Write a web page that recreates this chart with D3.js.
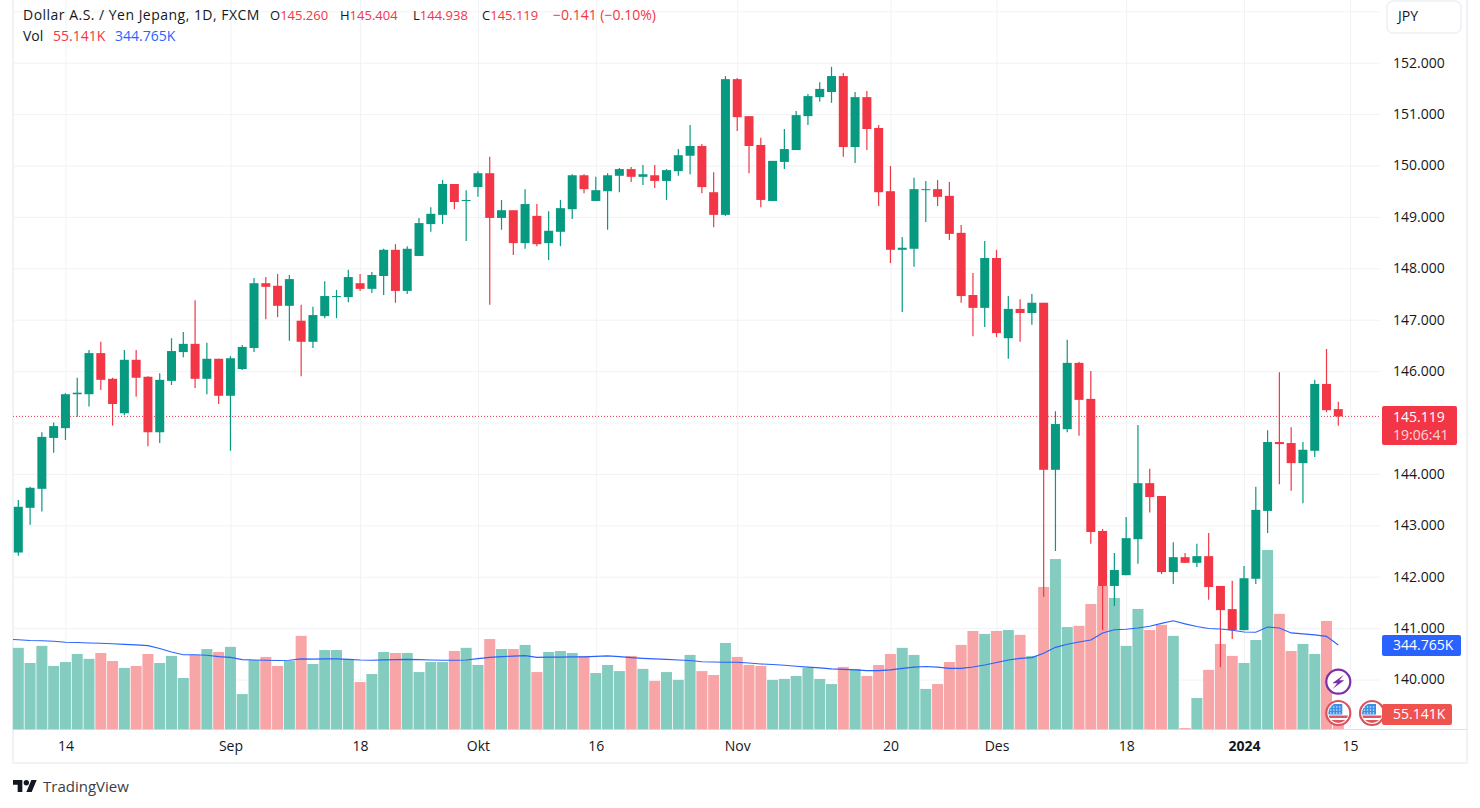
<!DOCTYPE html>
<html>
<head>
<meta charset="utf-8">
<script src="https://cdn.jsdelivr.net/npm/d3@7"></script>
<style>
  html, body { margin: 0; padding: 0; background: #fff; }
  svg { display: block; }
  text { font-family: "Open Sans", sans-serif; }
</style>
</head>
<body>
<div id="vis"></div>
<script>
// ---- Data ----
const opens = [
  142.47,143.34,143.71,144.70,144.89,145.55,145.55,146.35,145.85,145.18,
  146.22,145.89,144.81,145.81,146.37,146.53,145.85,146.24,145.52,146.04,
  146.45,147.71,147.66,147.27,146.98,146.57,147.07,147.44,147.44,147.71,
  147.60,147.85,148.36,147.56,148.24,148.86,149.04,149.64,149.31,149.58,
  149.85,148.98,149.13,148.49,149.02,148.49,148.71,149.15,149.81,149.31,
  149.50,149.80,149.93,149.78,149.81,149.70,149.89,150.19,150.38,149.48,
  149.04,151.68,150.96,150.40,149.31,150.07,150.30,150.96,151.33,151.43,
  151.74,150.36,151.33,150.73,149.50,148.36,148.38,149.52,149.54,149.41,
  148.69,147.48,147.23,148.20,146.64,147.21,147.13,147.33,144.08,144.87,
  146.16,145.46,142.89,141.82,142.03,142.73,143.82,143.57,142.09,142.38,
  142.27,142.40,141.82,141.37,140.96,141.96,143.28,144.62,144.60,144.21,
  144.45,145.75,145.260
];
const highs = [
  143.49,143.75,144.81,145.00,145.57,145.87,146.41,146.57,145.87,146.41,
  146.41,145.90,145.96,146.64,146.76,147.38,146.55,146.24,146.29,146.51,
  147.81,147.83,147.89,147.87,147.29,147.25,147.75,147.58,147.97,147.89,
  147.93,148.38,148.47,148.43,148.98,149.19,149.72,149.64,149.52,149.89,
  150.17,149.33,149.13,149.54,149.25,149.11,149.33,149.83,149.83,149.78,
  149.85,149.95,149.97,150.01,150.01,149.93,150.32,150.79,150.42,149.87,
  151.74,151.70,150.96,150.54,150.09,150.71,151.06,151.39,151.62,151.92,
  151.80,151.43,151.45,150.79,149.99,148.61,149.76,149.70,149.72,149.68,
  148.84,147.91,148.53,148.36,147.46,147.40,147.50,147.33,145.22,146.61,
  146.18,146.00,142.93,142.46,143.16,144.95,144.10,143.57,142.67,142.46,
  142.64,142.85,141.82,141.92,142.21,143.75,144.85,145.98,144.91,144.62,
  145.83,146.43,145.404
];
const lows = [
  142.41,143.01,143.27,144.41,144.66,145.11,145.31,145.63,144.94,145.14,
  145.50,144.54,144.60,145.73,146.27,145.67,145.55,145.36,144.45,146.02,
  146.37,147.01,147.05,146.59,145.90,146.45,147.03,147.03,147.34,147.56,
  147.52,147.48,147.33,147.50,148.24,148.71,148.86,149.15,148.53,149.39,
  147.29,148.75,148.26,148.38,148.43,148.16,148.43,148.96,149.46,149.31,
  148.75,149.48,149.68,149.62,149.56,149.33,149.80,149.83,149.46,148.80,
  149.02,150.67,149.85,149.19,149.31,149.93,150.30,150.79,151.24,151.22,
  150.17,150.05,150.30,149.21,148.10,147.15,148.03,148.90,149.21,148.55,
  147.33,146.68,146.86,146.66,146.24,146.57,146.90,141.61,142.50,144.81,
  144.74,142.64,140.96,141.43,142.03,142.25,143.25,142.05,141.86,142.27,
  142.19,141.55,140.24,140.79,140.96,141.86,142.85,143.80,143.67,143.43,
  144.33,145.20,144.938
];
const closes = [
  143.36,143.73,144.72,144.93,145.55,145.58,146.35,145.83,145.36,146.22,
  145.87,144.81,145.83,146.39,146.53,145.85,146.24,145.52,146.25,146.47,
  147.71,147.64,147.27,147.79,146.57,147.09,147.46,147.46,147.83,147.60,
  147.87,148.36,147.56,148.38,148.88,149.06,149.64,149.29,149.33,149.85,
  148.98,149.13,148.49,149.25,148.47,148.73,149.17,149.81,149.54,149.52,
  149.81,149.93,149.78,149.83,149.70,149.91,150.20,150.38,149.58,149.04,
  151.68,150.94,150.38,149.33,150.09,150.32,150.98,151.35,151.49,151.74,
  150.36,151.33,150.71,149.48,148.36,148.40,149.54,149.54,149.39,148.67,
  147.46,147.23,148.20,146.74,147.21,147.13,147.33,144.08,144.97,146.16,
  145.44,142.87,141.82,142.13,142.75,143.82,143.55,142.09,142.38,142.27,
  142.40,141.80,141.35,140.96,141.97,143.30,144.62,144.58,144.21,144.47,
  145.75,145.24,145.119
];
// volume, thousands
const volumes = [
  333,271,341,259,275,308,288,312,279,251,
  259,308,271,300,210,304,328,316,337,144,
  283,296,259,279,382,267,324,324,288,193,
  226,316,312,312,234,275,275,320,333,263,
  369,328,328,345,234,316,320,312,300,230,
  263,238,300,247,198,234,202,304,238,222,
  353,296,263,259,202,206,218,251,206,185,
  255,247,218,263,308,333,304,165,185,275,
  345,402,390,402,406,386,300,582,696,418,
  423,512,586,537,341,492,406,427,382,5,
  128,243,349,300,271,365,733,472,320,349,
  308,443,55.141
];
// first value belongs to the session just left of the visible range
const volumeMA = [
  369,
  366,363,362,360,356,355,353,352,350,347,
  345,342,330,316,305,305,303,297,294,285,
  283,282,281,282,288,287,288,288,286,283,
  282,284,285,286,285,283,282,282,283,289,
  294,297,299,301,294,295,295,296,296,298,
  300,297,293,290,288,286,283,281,276,275,
  274,274,271,267,265,262,258,254,251,247,
  245,243,240,240,243,249,254,257,254,249,
  249,255,263,273,283,290,293,311,335,348,
  357,365,394,407,409,414,421,433,444,431,
  420,412,410,405,398,397,418,414,394,390,
  386,380,344.765
];
// 145.000 is hidden behind the last-price label in the picture
const priceTicks = [140,141,142,143,144,146,147,148,149,150,151,152];
const priceGrid = [140,141,142,143,144,145,146,147,148,149,150,151,152,153];
// bar number of each labelled day, the last one is the next session after the data
const timeTicks = [4,18,29,39,49,61,74,83,94,104,113];
const timeLabels = ["14","Sep","18","Okt","16","Nov","20","Des","18","2024","15"];

const lastClose = 145.119;
const lastOpen = 145.260;
const lastHigh = 145.404;
const lastLow = 144.938;
const lastChange = "−0.141 (−0.10%)";
const countdown = "19:06:41";

// ---- Layout ----
const outerWidth = 1480;
const outerHeight = 808;
const paneLeft = 13;
const paneRight = 1380;
const frameRight = 1467;
const paneBottom = 729.5;
const frameBottom = 763;

const UP = "#089981";
const DOWN = "#f23645";
const UP_VOL = "#84ccbf";
const DOWN_VOL = "#f7a5a6";
const BLUE = "#2962ff";
const TEXT = "#131722";
const GRID = "#f0f2f5";

const n = closes.length;
const lastMA = volumeMA[volumeMA.length - 1];
const x = d3.scaleLinear().domain([0, n - 1]).range([18.3, 1338.3]);
const y = d3.scaleLinear().domain([140, 152]).range([679.5, 62.7]);
const yVol = d3.scaleLinear().domain([0, 733]).range([729.3, 550]);

const svg = d3.select("#vis")
  .append("svg")
  .attr("width", outerWidth)
  .attr("height", outerHeight)
  .attr("viewBox", `0 0 ${outerWidth} ${outerHeight}`);

svg.append("clipPath").attr("id", "pane")
  .append("rect")
  .attr("x", paneLeft).attr("y", 0)
  .attr("width", paneRight - paneLeft).attr("height", paneBottom);

// ---- Grid ----
const gridH = svg.append("g")
  .attr("transform", `translate(${paneLeft},0)`)
  .call(d3.axisRight(y).tickValues(priceGrid).tickSize(paneRight - paneLeft).tickFormat(""));
const gridV = svg.append("g")
  .attr("transform", `translate(0,${paneBottom})`)
  .call(d3.axisTop(x).tickValues(timeTicks).tickSize(paneBottom).tickFormat(""));
[gridH, gridV].forEach(g => {
  g.select(".domain").remove();
  g.selectAll("line").attr("stroke", GRID).attr("stroke-width", 1);
});

// ---- Frame ----
const frame = svg.append("g").attr("stroke", GRID).attr("stroke-width", 2);
frame.append("line").attr("x1", paneLeft).attr("x2", paneLeft).attr("y1", 0).attr("y2", frameBottom);
frame.append("line").attr("x1", frameRight).attr("x2", frameRight).attr("y1", 0).attr("y2", frameBottom);
frame.append("line").attr("x1", paneLeft).attr("x2", frameRight).attr("y1", frameBottom).attr("y2", frameBottom);
svg.append("line")
  .attr("x1", paneLeft).attr("x2", frameRight)
  .attr("y1", paneBottom).attr("y2", paneBottom)
  .attr("stroke", "#e0e3eb");

const idx = d3.range(n);
const isUp = i => closes[i] >= opens[i];

// ---- Volume bars ----
svg.append("g")
  .selectAll("rect")
  .data(idx)
  .join("rect")
  .attr("x", i => x(i) - 5.5)
  .attr("width", 11)
  .attr("y", i => yVol(volumes[i]))
  .attr("height", i => yVol(0) - yVol(volumes[i]))
  .attr("fill", i => (isUp(i) ? UP_VOL : DOWN_VOL));

// ---- Price line ----
svg.append("line")
  .attr("x1", paneLeft).attr("x2", paneRight)
  .attr("y1", y(lastClose)).attr("y2", y(lastClose))
  .attr("stroke", DOWN)
  .attr("stroke-width", 1)
  .attr("stroke-dasharray", "1 2");

// ---- Candles ----
const candles = svg.append("g");
candles.selectAll("line")
  .data(idx)
  .join("line")
  .attr("x1", i => x(i)).attr("x2", i => x(i))
  .attr("y1", i => y(highs[i])).attr("y2", i => y(lows[i]))
  .attr("stroke", i => (isUp(i) ? UP : DOWN))
  .attr("stroke-width", 1.2);
candles.selectAll("rect")
  .data(idx)
  .join("rect")
  .attr("x", i => x(i) - 4.5)
  .attr("width", 9)
  .attr("y", i => y(Math.max(opens[i], closes[i])))
  .attr("height", i => Math.max(1, Math.abs(y(opens[i]) - y(closes[i]))))
  .attr("fill", i => (isUp(i) ? UP : DOWN));

// ---- Volume MA ----
svg.append("path")
  .datum(volumeMA)
  .attr("fill", "none")
  .attr("stroke", BLUE)
  .attr("stroke-width", 1.1)
  .attr("clip-path", "url(#pane)")
  .attr("d", d3.line().x((d, i) => x(i - 1)).y(d => yVol(d)));

// ---- Axes ----
const priceAxis = svg.append("g")
  .attr("transform", "translate(1393,0)")
  .call(d3.axisRight(y).tickValues(priceTicks).tickSize(0).tickPadding(0).tickFormat(d3.format(".3f")));
priceAxis.select(".domain").remove();
priceAxis.selectAll("text")
  .style("font-family", "'Open Sans', sans-serif")
  .style("font-size", "14px")
  .attr("fill", TEXT);

const timeAxis = svg.append("g")
  .attr("transform", `translate(0,${paneBottom})`)
  .call(d3.axisBottom(x).tickValues(timeTicks).tickSize(0).tickPadding(12)
    .tickFormat((d, i) => timeLabels[i]));
timeAxis.select(".domain").remove();
timeAxis.selectAll("text")
  .style("font-family", "'Open Sans', sans-serif")
  .style("font-size", "14px")
  .style("font-weight", d => (d === 104 ? 700 : 400))
  .attr("fill", TEXT);

// ---- Event icons ----
function flagIcon(cx, cy) {
  const g = svg.append("g").attr("transform", `translate(${cx},${cy})`);
  const id = `flag${Math.round(cx)}`;
  g.append("clipPath").attr("id", id).append("circle").attr("r", 10);
  g.append("circle").attr("r", 12).attr("fill", "#fff").attr("stroke", "#d9545f").attr("stroke-width", 2.2);
  const inner = g.append("g").attr("clip-path", `url(#${id})`);
  inner.append("rect").attr("x", -11).attr("y", 2.5).attr("width", 22).attr("height", 2.5).attr("fill", "#e0565f");
  inner.append("rect").attr("x", -11).attr("y", 7).attr("width", 22).attr("height", 3.5).attr("fill", "#e0565f");
  inner.append("rect").attr("x", -11).attr("y", -9).attr("width", 15).attr("height", 10.5).attr("fill", "#3d8fe6");
  for (let r = 0; r < 3; r++) {
    for (let c = 0; c < 4; c++) {
      inner.append("circle").attr("cx", -7.5 + c * 3).attr("cy", -6 + r * 3).attr("r", 0.8).attr("fill", "#dcecff");
    }
  }
}
flagIcon(1372, 713);
flagIcon(1338.3, 713);

const bolt = svg.append("g").attr("transform", "translate(1338.3,681.7)");
bolt.append("circle").attr("r", 12).attr("fill", "#fff").attr("stroke", "#7b2fa8").attr("stroke-width", 2.2);
bolt.append("path").attr("d", "M5.5,-7 L-6,1.5 L-1,1.5 L-5.5,7 L6,-1.5 L1,-1.5 Z").attr("fill", "#7b2fa8");

// ---- Price labels ----
function labelBox(x0, y0, w, h, color) {
  svg.append("rect")
    .attr("x", x0).attr("y", y0).attr("width", w).attr("height", h)
    .attr("rx", 2)
    .attr("fill", color);
}
function label(txt, px, py, opts = {}) {
  return svg.append("text")
    .attr("x", px).attr("y", py)
    .attr("dy", "0.35em")
    .attr("fill", opts.fill || TEXT)
    .attr("fill-opacity", opts.opacity || 1)
    .style("font-size", (opts.size || 14) + "px")
    .style("font-weight", opts.weight || 400)
    .style("letter-spacing", (opts.spacing || 0) + "px")
    .text(txt);
}
labelBox(1382, 406, 75, 39, DOWN);
label(lastClose.toFixed(3), 1393, 417, { fill: "#fff", weight: 500 });
label(countdown, 1393, 435, { fill: "#fff", opacity: 0.8, weight: 500 });
labelBox(1382, 635, 79, 21, BLUE);
label(lastMA.toFixed(3) + "K", 1393, 645.5, { fill: "#fff", weight: 500 });
labelBox(1382, 704, 70, 21, "#ef5350");
label(volumes[n - 1].toFixed(3) + "K", 1393, 714.5, { fill: "#fff", weight: 500 });

// ---- Currency box ----
svg.append("rect")
  .attr("x", 1387).attr("y", 1).attr("width", 74).attr("height", 32)
  .attr("rx", 6)
  .attr("fill", "#fff")
  .attr("stroke", "#eef0f5")
  .attr("stroke-width", 1.5);
label("JPY", 1398, 16, { size: 14 });

// ---- Legend ----
label("Dollar A.S. / Yen Jepang, 1D, FXCM", 23, 15.5, { size: 14, spacing: 0.48 });
[["O", lastOpen, 270], ["H", lastHigh, 340], ["L", lastLow, 413], ["C", lastClose, 482]].forEach(([k, v, px]) => {
  const t = label(k, px, 15.5, { size: 13 });
  t.append("tspan").attr("fill", DOWN).text(v.toFixed(3));
});
label(lastChange, 553, 15.5, { size: 14, fill: DOWN });
label("Vol", 23, 36, { size: 14 });
label(volumes[n - 1].toFixed(3) + "K", 53, 36, { size: 14, fill: DOWN });
label(lastMA.toFixed(3) + "K", 115, 36, { size: 14, fill: BLUE });

// ---- Logo ----
const logo = svg.append("g").attr("transform", "translate(13,777.4) scale(0.667)").attr("fill", TEXT);
logo.append("path").attr("d", "M14 22H7V11H0V4h14v18ZM28 22h-8l7.5-18h8L28 22Z");
logo.append("circle").attr("cx", 20).attr("cy", 8).attr("r", 4);
label("TradingView", 43, 786.5, { size: 15, fill: "#3a3e4a" });
</script>
</body>
</html>
